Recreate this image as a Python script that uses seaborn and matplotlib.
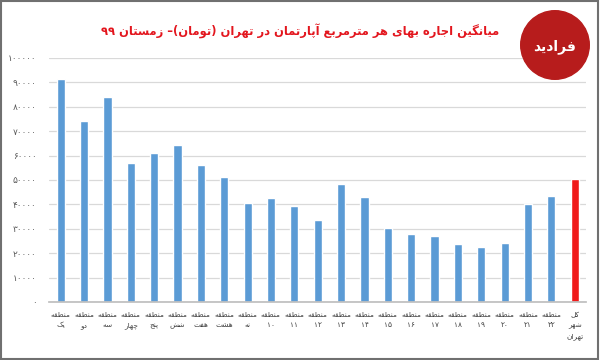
import re
import pandas as pd
import matplotlib.pyplot as plt
import seaborn as sns
from matplotlib.patches import Circle, Rectangle
from matplotlib.ticker import FuncFormatter

# === data ===
districts = ["یک", "دو", "سه", "چهار", "پنج", "شش", "هفت", "هشت", "نه", "۱۰",
             "۱۱", "۱۲", "۱۳", "۱۴", "۱۵", "۱۶", "۱۷", "۱۸", "۱۹", "۲۰", "۲۱", "۲۲"]
labels = ["منطقه\n" + d for d in districts] + ["کل\nشهر\nتهران"]
rent = [91400, 74200, 84000, 57000, 60900, 64200, 56000, 51200, 40700, 42700, 39200,
        33700, 48500, 43000, 30400, 27900, 27200, 23800, 22500, 24300, 40000, 43300, 50500]
title = "میانگین اجاره بهای هر مترمربع آپارتمان در تهران (تومان)– زمستان ۹۹"
yticks = list(range(0, 100001, 10000))

# === simple persian shaping (matplotlib has no bidi / shaping) ===
DUAL = {'ب': 0xFE8F, 'ت': 0xFE95, 'ث': 0xFE99, 'ج': 0xFE9D, 'ح': 0xFEA1, 'خ': 0xFEA5,
        'س': 0xFEB1, 'ش': 0xFEB5, 'ص': 0xFEB9, 'ض': 0xFEBD, 'ط': 0xFEC1, 'ظ': 0xFEC5,
        'ع': 0xFEC9, 'غ': 0xFECD, 'ف': 0xFED1, 'ق': 0xFED5, 'ل': 0xFEDD, 'م': 0xFEE1,
        'ن': 0xFEE5, 'ه': 0xFEE9, 'پ': 0xFB56, 'چ': 0xFB7A, 'ک': 0xFB8E, 'گ': 0xFB92,
        'ی': 0xFBFC}
RIGHT = {'ا': 0xFE8D, 'آ': 0xFE81, 'د': 0xFEA9, 'ذ': 0xFEAB, 'ر': 0xFEAD, 'ز': 0xFEAF,
         'ژ': 0xFB8A, 'و': 0xFEED}
MIRROR = str.maketrans('()', ')(')
FA_DIGITS = str.maketrans('0123456789', '۰۱۲۳۴۵۶۷۸۹')


def shape(s):
    out = []
    for i, c in enumerate(s):
        base = DUAL.get(c, RIGHT.get(c))
        if base is None:
            out.append(c)
            continue
        p = s[i - 1] if i > 0 else ''
        n = s[i + 1] if i + 1 < len(s) else ''
        k = (1 if p in DUAL else 0) + (2 if c in DUAL and (n in DUAL or n in RIGHT) else 0)
        out.append(chr(base + k))
    return ''.join(out)


def rtl(text):
    lines = []
    for line in text.split('\n'):
        runs = re.findall(r'[0-9۰-۹]+|[^0-9۰-۹]+', shape(line))
        lines.append(''.join(r if r[0].isdigit() else r[::-1].translate(MIRROR)
                             for r in reversed(runs)))
    return '\n'.join(lines)


# === plot ===
sns.set_theme(style="whitegrid")
plt.rcParams['font.family'] = ['DejaVu Sans']

df = pd.DataFrame({'label': labels, 'rent': rent})
colors = ['#5B9BD5'] * (len(labels) - 1) + ['#F01A1A']

fig = plt.figure(figsize=(6, 3.6), dpi=100)
ax = fig.add_axes([0.0817, 0.1611, 0.8957, 0.6778])
sns.barplot(data=df, x='label', y='rent', hue='label', palette=colors,
            legend=False, width=0.35, saturation=1, ax=ax)

ax.set_xlim(-0.5, len(labels) - 0.5)
ax.set_ylim(0, 100000)
ax.set_yticks(yticks)
ax.yaxis.set_major_formatter(FuncFormatter(lambda v, _: str(int(v)).translate(FA_DIGITS)))
ax.set_xticks(range(len(labels)))
ax.set_xticklabels([rtl(l) for l in labels], fontsize=5.3, color='#404040', linespacing=1.9,
                   va='top')
ax.tick_params(axis='y', labelsize=6.5, labelcolor='#595959', pad=9, length=0)
ax.tick_params(axis='x', pad=7, length=0)
ax.set_xlabel('')
ax.set_ylabel('')
ax.grid(axis='y', color='#D9D9D9', linewidth=0.9)
ax.grid(axis='x', visible=False)
for side in ['left', 'right', 'top']:
    ax.spines[side].set_visible(False)
ax.spines['bottom'].set_color('#BFBFBF')
ax.set_facecolor('white')

fig.text(0.5, 0.912, rtl(title), ha='center', va='center', fontsize=8.3,
         fontweight='bold', color='#E3161E')

# logo
lax = fig.add_axes([520 / 600, 1 - 80 / 360, 70 / 600, 70 / 360])
lax.set_aspect('equal')
lax.set_xlim(-1, 1)
lax.set_ylim(-1, 1)
lax.axis('off')
lax.add_patch(Circle((0, 0), 0.98, color='#B71C1C'))
lax.text(0, -0.05, rtl("فرادید"), ha='center', va='center', color='white',
         fontsize=10, fontweight='bold')

# frame around picture
fig.add_artist(Rectangle((0.002, 0.003), 0.994, 0.994, transform=fig.transFigure,
                         fill=False, edgecolor='#707070', linewidth=1.5))

plt.savefig('out.png', dpi=100)
